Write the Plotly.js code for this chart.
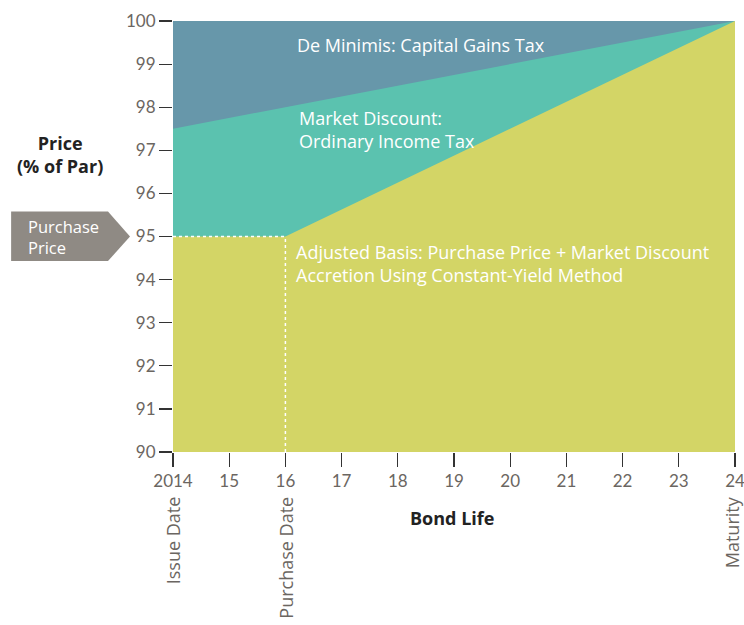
<!DOCTYPE html>
<html>
<head>
<meta charset="utf-8">
<script src="https://cdn.plot.ly/plotly-3.0.1.min.js"></script>
<style>html,body{margin:0;padding:0;background:#fff;}#chart{width:744px;height:625px;}</style>
</head>
<body>
<div id="chart"></div>
<script>
// Data
var years = [2014, 2015, 2016, 2017, 2018, 2019, 2020, 2021, 2022, 2023, 2024];
var tickLabels = ['2014', '15', '16', '17', '18', '19', '20', '21', '22', '23', '24'];
var parX = [2014, 2024];
var parY = [100, 100];
var deMinimisX = [2014, 2024];
var deMinimisY = [97.5, 100];
var basisX = [2014, 2016, 2024];
var basisY = [95, 95, 100];
var purchaseYear = 2016;
var purchasePrice = 95;
var dateLabels = ['Issue Date', 'Purchase Date', 'Maturity'];
var dateLabelYears = [2014, 2016, 2024];
var dateLabelShift = [0, 1, -3];

var font = '"Open Sans", Lato, sans-serif';
var tickFont = 'Lato, "Open Sans", sans-serif';
var grey = '#6b6661';
var white = '#ffffff';

var traces = [
  {x: parX, y: parY, mode: 'lines', line: {width: 0, color: '#6797aa'}, fill: 'tozeroy', fillcolor: '#6797aa', hoverinfo: 'skip'},
  {x: deMinimisX, y: deMinimisY, mode: 'lines', line: {width: 0, color: '#5bc2af'}, fill: 'tozeroy', fillcolor: '#5bc2af', hoverinfo: 'skip'},
  {x: basisX, y: basisY, mode: 'lines', line: {width: 0, color: '#d3d566'}, fill: 'tozeroy', fillcolor: '#d3d566', hoverinfo: 'skip'}
];

function txt(x, y, text, size, color, xanchor, align) {
  return {x: x, y: y, xref: 'paper', yref: 'paper', text: text, showarrow: false,
    xanchor: xanchor || 'left', yanchor: 'middle', align: align || 'left',
    font: {family: font, size: size, color: color}};
}

var annotations = [
  txt(0.2171, 0.9443, 'De Minimis: Capital Gains Tax', 18, white),
  txt(0.2206, 0.7483, 'Market Discount:<br>Ordinary Income Tax', 18, white),
  txt(0.2153, 0.4362, 'Adjusted Basis: Purchase Price + Market Discount<br>Accretion Using Constant-Yield Method', 18, white),
  txt(-0.262, 0.4988, 'Purchase<br>Price', 16.5, white),
  txt(-0.2011, 0.6891, '<b>Price<br>(% of Par)</b>', 18, '#222222', 'center', 'center'),
  txt(0.4964, -0.1531, '<b>Bond Life</b>', 18, '#222222', 'center', 'center')
];
for (var i = 0; i < dateLabels.length; i++) {
  annotations.push({x: dateLabelYears[i], y: -0.098, xref: 'x', yref: 'paper', text: dateLabels[i], textangle: -90, showarrow: false, xanchor: 'center', yanchor: 'top', xshift: dateLabelShift[i], font: {family: font, size: 18, color: grey}});
}

var shapes = [
  {type: 'line', xref: 'x', yref: 'y', x0: years[0], x1: purchaseYear, y0: purchasePrice, y1: purchasePrice, line: {color: white, width: 1.5, dash: 'dot'}},
  {type: 'line', xref: 'x', yref: 'y', x0: purchaseYear, x1: purchaseYear, y0: 90, y1: purchasePrice, line: {color: white, width: 1.5, dash: 'dot'}},
  {type: 'path', xref: 'paper', yref: 'y', path: 'M -0.288 95.58 L -0.1157 95.58 L -0.0765 95 L -0.1157 94.43 L -0.288 94.43 Z', fillcolor: '#8f8a84', line: {width: 0}}
];

var layout = {
  width: 744, height: 625,
  margin: {l: 173, r: 9, t: 21, b: 173},
  paper_bgcolor: '#ffffff', plot_bgcolor: '#ffffff',
  showlegend: false,
  xaxis: {range: [2014, 2024], tickmode: 'array', tickvals: years, ticktext: tickLabels, ticks: 'outside', ticklen: 14, tickcolor: '#333333', tickwidth: 1.2, showgrid: false, zeroline: false, showline: false, ticklabeloverflow: 'allow', tickfont: {family: tickFont, size: 17, color: grey}, fixedrange: true, automargin: false},
  yaxis: {range: [90, 100], dtick: 1, ticks: 'outside', ticklen: 13, tickcolor: '#333333', tickwidth: 1.2, showgrid: false, zeroline: false, showline: false, ticklabeloverflow: 'allow', tickfont: {family: tickFont, size: 17, color: grey}, fixedrange: true, automargin: false},
  annotations: annotations,
  shapes: shapes
};

Plotly.newPlot('chart', traces, layout, {displayModeBar: false, staticPlot: true});
</script>
</body>
</html>
